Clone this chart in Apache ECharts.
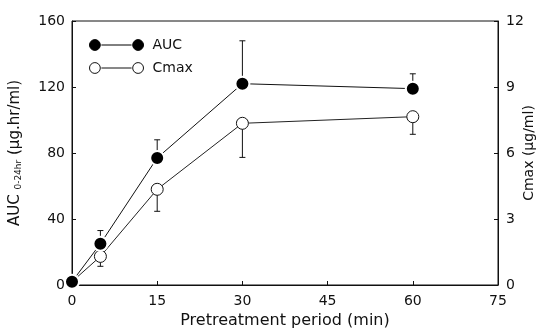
<!DOCTYPE html>
<html>
<head>
<meta charset="utf-8">
<script src="https://cdn.jsdelivr.net/npm/echarts@6/dist/echarts.min.js"></script>
<style>
  html, body { margin: 0; padding: 0; background: #fff; }
  #chart { width: 537px; height: 331px; }
</style>
</head>
<body>
<div id="chart"></div>
<script>
// pretreatment period (min)
var periods = [0, 5, 15, 30, 60];
// AUC 0-24hr (ug.hr/ml) and upper error
var aucVals = [2, 25, 77, 122, 119];
var aucErr = [0, 8, 11, 26, 9];
// Cmax (ug/ml) and lower error
var cmaxVals = [0.15, 1.3, 4.35, 7.35, 7.65];
var cmaxErr = [0, 0.45, 1.0, 1.55, 0.8];

var font = 'DejaVu Sans';
// legend icon: marker - line - marker
var legendIcon = 'path://M1,6A5,5 0 1,1 11,6A5,5 0 1,1 1,6Z M12,6L40,6 M41,6A5,5 0 1,1 51,6A5,5 0 1,1 41,6Z';

function pairs(xs, ys) {
  return xs.map(function (x, i) { return [x, ys[i]]; });
}
function errData(xs, ys, err, dir) {
  return xs.map(function (x, i) { return [x, ys[i], ys[i] + dir * err[i]]; });
}
function errRender(params, api) {
  var x = api.value(0);
  var p0 = api.coord([x, api.value(1)]);
  var p1 = api.coord([x, api.value(2)]);
  if (Math.abs(p0[1] - p1[1]) < 1) return null;
  var st = { stroke: '#111', lineWidth: 1 };
  return {
    type: 'group',
    children: [
      { type: 'line', shape: { x1: p0[0], y1: p0[1], x2: p1[0], y2: p1[1] }, style: st },
      { type: 'line', shape: { x1: p1[0] - 3, y1: p1[1], x2: p1[0] + 3, y2: p1[1] }, style: st }
    ]
  };
}

var chart = echarts.init(document.getElementById('chart'));
chart.setOption({
  animation: false,
  grid: {
    left: 72, right: 39, top: 21, bottom: 46, outerBoundsMode: 'none',
    show: true, borderColor: '#111', borderWidth: 1
  },
  legend: {
    left: 84, top: 33, orient: 'vertical', itemGap: 9, itemWidth: 54, itemHeight: 13,
    icon: legendIcon,
    textStyle: { fontFamily: font, fontSize: 14, color: '#111', padding: [0, 0, 0, 4] },
    data: [
      { name: 'AUC', itemStyle: { color: '#000', borderColor: '#000', borderWidth: 1 } },
      { name: 'Cmax', itemStyle: { color: '#fff', borderColor: '#111', borderWidth: 1 } }
    ]
  },
  xAxis: {
    type: 'value', min: 0, max: 75, interval: 15,
    name: 'Pretreatment period (min)', nameLocation: 'middle', nameGap: 26,
    nameTextStyle: { fontFamily: font, fontSize: 16, color: '#111' },
    axisLine: { lineStyle: { color: '#111' } },
    axisTick: { inside: true, length: 4, lineStyle: { color: '#111' } },
    axisLabel: { fontFamily: font, fontSize: 14, color: '#111', margin: 9 },
    splitLine: { show: false }
  },
  yAxis: [{
    type: 'value', min: 0, max: 160, interval: 40, position: 'left',
    name: '{a|AUC }{s|0-24hr}{a| (μg.hr/ml)}', nameLocation: 'middle', nameGap: 49, nameRotate: 90,
    nameTextStyle: {
      color: '#111',
      rich: {
        a: { fontFamily: font, fontSize: 15, color: '#111' },
        s: { fontFamily: font, fontSize: 9, color: '#111', verticalAlign: 'bottom', padding: [5, 0, 0, 0] }
      }
    },
    axisLine: { show: true, lineStyle: { color: '#111' } },
    axisTick: { inside: true, length: 4, lineStyle: { color: '#111' } },
    axisLabel: { fontFamily: font, fontSize: 14, color: '#111', margin: 7 },
    splitLine: { show: false }
  }, {
    type: 'value', min: 0, max: 12, interval: 3, position: 'right',
    name: 'Cmax (μg/ml)', nameLocation: 'middle', nameGap: 24, nameRotate: 90,
    nameMoveOverlap: false,
    nameTextStyle: { fontFamily: font, fontSize: 14, color: '#111' },
    axisLine: { show: true, lineStyle: { color: '#111' } },
    axisTick: { inside: true, length: 4, lineStyle: { color: '#111' } },
    axisLabel: { fontFamily: font, fontSize: 14, color: '#111', margin: 8 },
    splitLine: { show: false }
  }],
  series: [{
    type: 'custom', yAxisIndex: 0, z: 1, silent: true,
    renderItem: errRender, data: errData(periods, aucVals, aucErr, 1)
  }, {
    type: 'custom', yAxisIndex: 1, z: 1, silent: true,
    renderItem: errRender, data: errData(periods, cmaxVals, cmaxErr, -1)
  }, {
    name: 'Cmax', type: 'line', yAxisIndex: 1, z: 3,
    data: pairs(periods, cmaxVals),
    symbol: 'circle', symbolSize: 12,
    lineStyle: { color: '#222', width: 1 },
    itemStyle: { color: '#fff', borderColor: '#111', borderWidth: 1 }
  }, {
    name: 'AUC', type: 'line', yAxisIndex: 0, z: 4,
    data: pairs(periods, aucVals),
    symbol: 'circle', symbolSize: 14,
    lineStyle: { color: '#111', width: 1 },
    itemStyle: { color: '#000', borderColor: '#fff', borderWidth: 2 }
  }]
});
</script>
</body>
</html>
